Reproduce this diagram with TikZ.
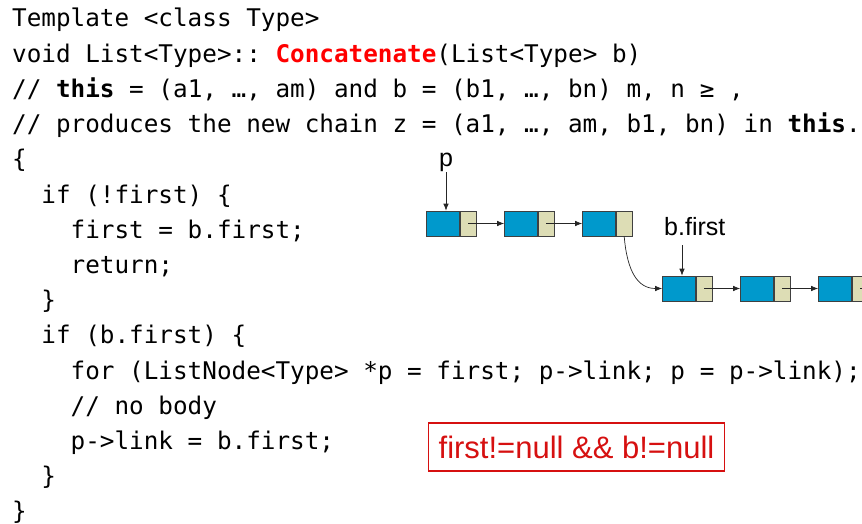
\documentclass[tikz,border=0pt]{standalone}
\usepackage{fontspec}
\setmainfont{Liberation Sans}
\setmonofont{DejaVu Sans Mono}
\usetikzlibrary{positioning,arrows.meta}
\definecolor{cellblue}{RGB}{0,153,204}
\definecolor{celltan}{RGB}{221,221,181}
\definecolor{cellrim}{RGB}{64,64,64}
\definecolor{keyred}{RGB}{255,0,0}
\definecolor{boxred}{RGB}{214,16,16}
\def\codeln{35.2}
\tikzset{
	code/.style={anchor=base west, inner sep=0, font=\fontsize{24.3}{29}\selectfont\ttfamily\frenchspacing},
	datacell/.style={draw=cellrim, line width=0.7pt, fill=cellblue, minimum width=33pt, minimum height=25pt, inner sep=0},
	linkcell/.style={draw=cellrim, line width=0.7pt, fill=celltan, minimum width=16pt, minimum height=25pt, inner sep=0, right=0pt of #1},
	ptr/.style={draw=black!85, line width=0.7pt, -{Latex[length=7pt,width=5.5pt]}},
	lbl/.style={inner sep=0, font=\fontsize{25}{30}\selectfont},
	condbox/.style={draw=boxred, line width=1.4pt, text=boxred, inner xsep=10pt, minimum height=48pt, font=\fontsize{31}{36}\selectfont}
}

\begin{document}
\begin{tikzpicture}[x=1pt, y=-1pt]
			%%%%% START %%%%%
			\useasboundingbox (0, 0) rectangle (862, 524);
			
			% code lines
			\node[code] (l1) at (12, 27) {Template <class Type>};
			\node[code] (l2) at (12, 27+\codeln) {void List<Type>:: {\color{keyred}\bfseries Concatenate}(List<Type> b)};
			\node[code] (l3) at (12, 27+2*\codeln) {// {\bfseries this} = (a1, …, am) and b = (b1, …, bn) m, n ≥ ,};
			\node[code] (l4) at (12, 27+3*\codeln) {// produces the new chain z = (a1, …, am, b1, bn) in {\bfseries this}.};
			\node[code] (l5) at (12, 27+4*\codeln) {\{};
			\node[code] (l6) at (12+2*14.63, 27+5*\codeln) {if (!first) \{};
			\node[code] (l7) at (12+4*14.63, 27+6*\codeln) {first = b.first;};
			\node[code] (l8) at (12+4*14.63, 27+7*\codeln) {return;};
			\node[code] (l9) at (12+2*14.63, 27+8*\codeln) {\}};
			\node[code] (l10) at (12+2*14.63, 27+9*\codeln) {if (b.first) \{};
			\node[code] (l11) at (12+4*14.63, 27+10*\codeln) {for (ListNode<Type> *p = first; p->link; p = p->link);};
			\node[code] (l12) at (12+4*14.63, 27+11*\codeln) {// no body};
			\node[code] (l13) at (12+4*14.63, 27+12*\codeln) {p->link = b.first;};
			\node[code] (l14) at (12+2*14.63, 27+13*\codeln) {\}};
			\node[code] (l15) at (12, 27+14*\codeln) {\}};
			
			% chain this
			\node[datacell] (a1) at (443, 223.5) {};
			\node[linkcell=a1] (a1p) {};
			\node[datacell] (a2) at (521, 223.5) {};
			\node[linkcell=a2] (a2p) {};
			\node[datacell] (a3) at (599, 223.5) {};
			\node[linkcell=a3] (a3p) {};
			
			% chain b
			\node[datacell] (b1) at (679, 288.5) {};
			\node[linkcell=b1] (b1p) {};
			\node[datacell] (b2) at (757, 288.5) {};
			\node[linkcell=b2] (b2p) {};
			\node[datacell] (b3) at (835, 288.5) {};
			\node[linkcell=b3] (b3p) {};
			\coordinate (bend) at (880, 288.5);
			
			\draw[ptr] (a1p.center) -- (a2.west);
			\draw[ptr] (a2p.center) -- (a3.west);
			\draw[ptr] (a3p.south) .. controls +(3, 36) and +(-24, 0) .. (b1.west);
			\draw[ptr] (b1p.center) -- (b2.west);
			\draw[ptr] (b2p.center) -- (b3.west);
			\draw[ptr] (b3p.center) -- (bend);
			
			% pointer labels
			\node[lbl, anchor=south] (pname) at (446, 172) {p};
			\draw[ptr] (pname.south) -- (pname.south |- a1.north);
			\node[lbl, anchor=base west] (bname) at (664, 235) {b.first};
			\draw[ptr] ([xshift=3pt, yshift=-10pt]bname.south -| b1.north) -- ([xshift=3pt]b1.north);
			
			% condition
			\node[condbox] (cond) at (576.5, 447) {first!=null \&\& b!=null};
			
			%%%%% END %%%%%
\end{tikzpicture}
\end{document}
